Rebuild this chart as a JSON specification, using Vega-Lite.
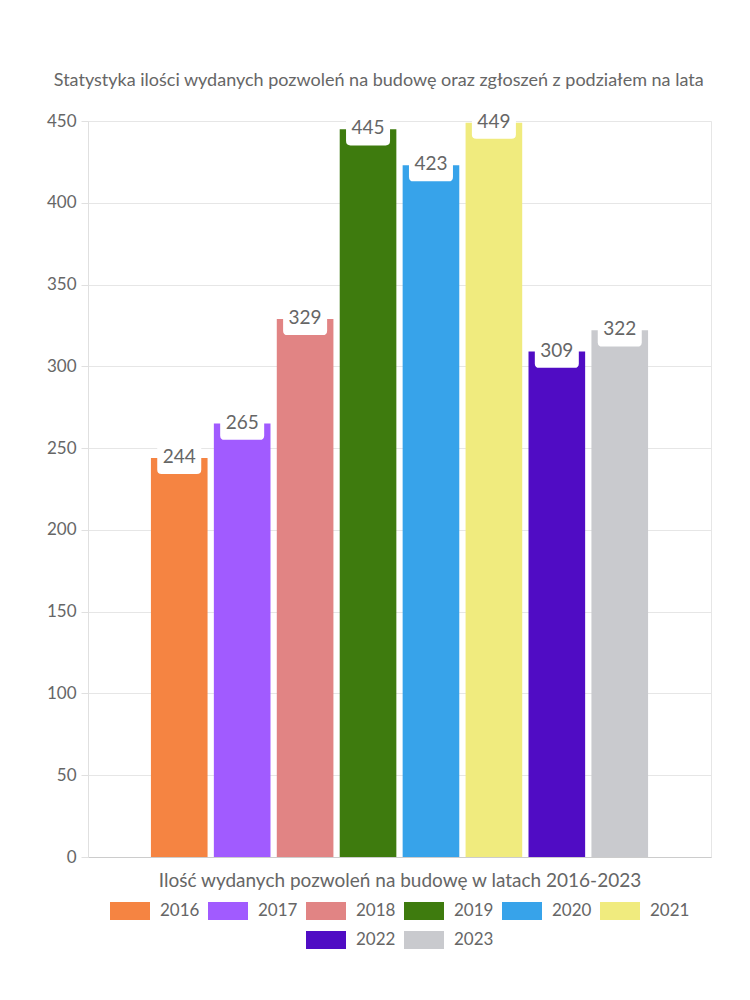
{
  "$schema": "https://vega.github.io/schema/vega-lite/v6.json",
  "width": 623,
  "height": 736,
  "autosize": {"type": "pad"},
  "padding": {"left": 46, "top": 72, "right": 40, "bottom": 30},
  "background": "white",
  "title": {
    "text": "Statystyka ilości wydanych pozwoleń na budowę oraz zgłoszeń z podziałem na lata",
    "fontSize": 18,
    "font": "Lato",
    "fontWeight": "normal",
    "color": "#666666",
    "anchor": "middle",
    "frame": "bounds",
    "offset": 22
  },
  "data": {
    "values": [
      {"rok": "2016", "liczba": 244},
      {"rok": "2017", "liczba": 265},
      {"rok": "2018", "liczba": 329},
      {"rok": "2019", "liczba": 445},
      {"rok": "2020", "liczba": 423},
      {"rok": "2021", "liczba": 449},
      {"rok": "2022", "liczba": 309},
      {"rok": "2023", "liczba": 322}
    ]
  },
  "encoding": {
    "x": {
      "field": "rok",
      "type": "nominal",
      "sort": null,
      "scale": {"paddingInner": 0.1, "paddingOuter": 1.05},
      "axis": {
        "title": "Ilość wydanych pozwoleń na budowę w latach 2016-2023",
        "labels": false,
        "ticks": false,
        "domainColor": "#cccccc",
        "titleFont": "Lato",
        "titleFontSize": 19,
        "titleFontWeight": "normal",
        "titleColor": "#666666",
        "titlePadding": 14
      }
    },
    "y": {
      "field": "liczba",
      "type": "quantitative",
      "scale": {"domain": [0, 450], "nice": false},
      "axis": {
        "title": null,
        "values": [0, 50, 100, 150, 200, 250, 300, 350, 400, 450],
        "labelFont": "Lato",
        "labelFontSize": 17,
        "labelColor": "#666666",
        "labelPadding": 5,
        "tickSize": 7,
        "tickColor": "#e0e0e0",
        "gridColor": "#e6e6e6",
        "domainColor": "#e0e0e0"
      }
    }
  },
  "layer": [
    {
      "transform": [{"filter": {"field": "rok", "oneOf": ["2016", "2017", "2018", "2019", "2020", "2021"]}}],
      "mark": {"type": "bar", "opacity": 1},
      "encoding": {
        "color": {
          "field": "rok",
          "type": "nominal",
          "scale": {
            "domain": ["2016", "2017", "2018", "2019", "2020", "2021"],
            "range": ["#F58442", "#A15BFF", "#E18484", "#3E7B0E", "#37A3EA", "#F0EB7E"]
          },
          "legend": {"title": null}
        }
      }
    },
    {
      "transform": [{"filter": {"field": "rok", "oneOf": ["2022", "2023"]}}],
      "mark": {"type": "bar", "opacity": 1},
      "encoding": {
        "fill": {
          "field": "rok",
          "type": "nominal",
          "scale": {
            "domain": ["2022", "2023"],
            "range": ["#500CC4", "#C9CACE"]
          },
          "legend": {"title": null}
        }
      }
    },
    {
      "mark": {
        "type": "point",
        "shape": "M-1,-0.6H1V0.4Q1,0.6 0.8,0.6H-0.8Q-1,0.6 -1,0.4Z",
        "size": 1936,
        "filled": true,
        "fill": "white",
        "opacity": 1,
        "strokeWidth": 0,
        "yOffset": 3
      }
    },
    {
      "mark": {
        "type": "text",
        "font": "Lato",
        "fontSize": 19,
        "color": "#666666",
        "baseline": "middle",
        "dy": -1
      },
      "encoding": {"text": {"field": "liczba", "type": "quantitative"}}
    }
  ],
  "config": {
    "view": {"stroke": "#e6e6e6"},
    "legend": {
      "orient": "bottom",
      "direction": "horizontal",
      "symbolType": "M-1,-0.45H1V0.45H-1Z",
      "symbolSize": 1600,
      "symbolStrokeWidth": 0,
      "symbolOpacity": 1,
      "labelFont": "Lato",
      "labelFontSize": 17,
      "labelColor": "#666666",
      "labelOffset": 10,
      "columnPadding": 8,
      "offset": 1,
      "layout": {"bottom": {"anchor": "middle", "direction": "vertical", "center": true, "margin": 0}}
    }
  }
}
